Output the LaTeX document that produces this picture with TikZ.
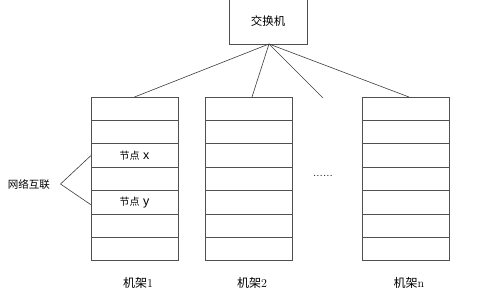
\documentclass[tikz,border=0pt]{standalone}
\usepackage{fontspec}
\usetikzlibrary{positioning}
\newfontfamily\cjk{Noto Sans CJK SC}
\newfontfamily\latinsans{Liberation Sans}
\definecolor{LineGray}{RGB}{60,60,60}
\definecolor{RackGray}{RGB}{80,80,80}

\tikzset{
  rackrow/.style={draw=RackGray, line width=0.7pt, minimum width=87pt, minimum height=23.4pt, inner sep=0pt, outer sep=0pt},
  switchbox/.style={draw=RackGray, line width=0.7pt, minimum width=78pt, minimum height=45pt, inner sep=0pt},
  link/.style={draw=LineGray, line width=0.6pt}
}

\begin{document}
\begin{tikzpicture}[x=1pt, y=-1pt]
  \useasboundingbox (0,0) rectangle (483,303);

  % switch on top
  \node[switchbox, font=\cjk\fontsize{11.5}{12}\selectfont] (switch) at (268,21.5) {交换机};

  % racks of seven rows each
  \foreach \name/\cx in {1/134.5, 2/248.5, n/405.5} {
    \foreach \r in {1,...,7}
      \node[rackrow] (rack\name-\r) at (\cx, {97+23.4*(\r-0.5)}) {};
    \node[font=\fontsize{12}{13}\selectfont] (label\name) at (\cx+3.5, 283) {{\cjk 机架}\name};
  }

  % nodes inside rack 1
  \node[font=\fontsize{10}{11}\selectfont] (nodex) at (rack1-3) {{\cjk 节点} {\latinsans\fontsize{12.5}{13}\selectfont x}};
  \node[font=\fontsize{10}{11}\selectfont] (nodey) at (rack1-5) {{\cjk 节点} {\latinsans\fontsize{12.5}{13}\selectfont y}};

  % links from switch
  \coordinate (hub) at (269,44);
  \coordinate (more) at (323,98);
  \draw[link] (hub) -- (rack1-1.north);
  \draw[link] (hub) -- ([xshift=3.5pt]rack2-1.north);
  \draw[link] (hub) -- (more);
  \draw[link] (hub) -- ([xshift=3.5pt]rackn-1.north);

  \node[font=\large] (dots) at (323,176) {......};

  % interconnect label
  \node[font=\cjk\fontsize{10.5}{11}\selectfont] (net) at (29,184) {网络互联};
  \coordinate (apex) at (60.5,184);
  \draw[link] (rack1-3.west) -- (apex) -- ([yshift=-2.5pt]rack1-5.west);
\end{tikzpicture}
\end{document}
